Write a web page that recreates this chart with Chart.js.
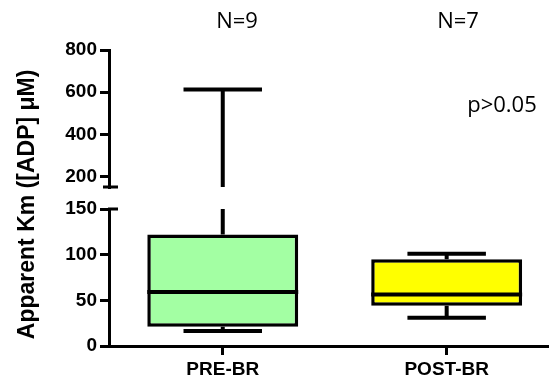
<!DOCTYPE html>
<html>
<head>
<meta charset="utf-8">
<script src="https://cdn.jsdelivr.net/npm/chart.js@4.4.0/dist/chart.umd.min.js"></script>
<style>
  html, body { margin: 0; padding: 0; background: #ffffff; }
  #wrap { width: 549px; height: 385px; }
</style>
</head>
<body>
<div id="wrap"><canvas id="c" width="549" height="385"></canvas></div>
<script>
// ---- data ----
const categories = ['PRE-BR', 'POST-BR'];
const whiskerMin = [16.5, 31];
const quartile1 = [21, 44];
const medians = [59, 56.5];
const quartile3 = [122, 95];
const whiskerMax = [613, 101];
const sampleSizes = ['N=9', 'N=7'];
const pValueText = 'p>0.05';
const boxColors = ['#a3ffa3', '#ffff00'];
const upperTicks = [200, 400, 600, 800];
const lowerTicks = [0, 50, 100, 150];
const upperRange = [150, 800];
const lowerRange = [0, 150];
const xRange = [-0.508, 1.457];
const yTitle = 'Apparent Km ([ADP] \u03bcM)  ';

const boxData = categories.map((c, i) => ({ x: i, y: [quartile1[i], quartile3[i]] }));

const tickFont = { family: 'Liberation Sans, Arial, sans-serif', size: 19, weight: 'bold' };

function yAxis(range, ticks, weight) {
  return {
    type: 'linear',
    position: 'left',
    stack: 'y',
    stackWeight: weight,
    min: range[0],
    max: range[1],
    afterBuildTicks: s => { s.ticks = ticks.map(v => ({ value: v })); },
    afterFit: s => { s.width = 109; },
    border: { display: true, color: '#000', width: 3 },
    grid: { display: true, drawOnChartArea: false, drawTicks: true, tickLength: 9, color: '#000', lineWidth: 3 },
    ticks: { color: '#000', font: tickFont, padding: 3 }
  };
}

const boxPlotPlugin = {
  id: 'boxPlot',
  afterDatasetsDraw(chart) {
    const ctx = chart.ctx;
    const yTop = chart.scales.yTop, yBot = chart.scales.yBot;
    const breakVal = lowerRange[1];
    const pix = v => v <= breakVal ? yBot.getPixelForValue(v) : yTop.getPixelForValue(v);
    const meta = chart.getDatasetMeta(0);
    ctx.save();
    ctx.strokeStyle = '#000';
    ctx.lineCap = 'butt';
    categories.forEach((c, i) => {
      const bar = meta.data[i];
      const x = bar.x;
      const half = bar.width / 2;
      const capHalf = bar.width * 0.26;
      ctx.lineWidth = 4;
      ctx.beginPath();
      if (whiskerMax[i] > breakVal) {
        ctx.moveTo(x, pix(quartile3[i]));
        ctx.lineTo(x, yBot.top);
        ctx.moveTo(x, yTop.bottom);
        ctx.lineTo(x, pix(whiskerMax[i]));
      } else {
        ctx.moveTo(x, pix(quartile3[i]));
        ctx.lineTo(x, pix(whiskerMax[i]));
      }
      ctx.moveTo(x, pix(quartile1[i]));
      ctx.lineTo(x, pix(whiskerMin[i]));
      ctx.stroke();
      ctx.beginPath();
      ctx.moveTo(x - capHalf, pix(whiskerMax[i]));
      ctx.lineTo(x + capHalf, pix(whiskerMax[i]));
      ctx.moveTo(x - capHalf, pix(whiskerMin[i]));
      ctx.lineTo(x + capHalf, pix(whiskerMin[i]));
      ctx.stroke();
      ctx.beginPath();
      ctx.moveTo(x - half, pix(medians[i]));
      ctx.lineTo(x + half, pix(medians[i]));
      ctx.stroke();
    });
    const ax = yBot.right;
    ctx.lineWidth = 3;
    ctx.beginPath();
    ctx.moveTo(ax - 6, yTop.bottom);
    ctx.lineTo(ax + 9, yTop.bottom);
    ctx.moveTo(ax - 1, yBot.top);
    ctx.lineTo(ax + 9, yBot.top);
    ctx.stroke();
    ctx.fillStyle = '#000';
    ctx.font = '22px "Open Sans", sans-serif';
    ctx.textAlign = 'center';
    ctx.textBaseline = 'middle';
    ctx.fillText(sampleSizes[0], 237, 22);
    ctx.fillText(sampleSizes[1], 458, 22);
    ctx.fillText(pValueText, 502, 106);
    ctx.restore();
  }
};

new Chart(document.getElementById('c'), {
  type: 'bar',
  data: {
    datasets: [{
      data: boxData,
      yAxisID: 'yBot',
      backgroundColor: boxColors,
      borderColor: '#000',
      borderWidth: 3.5,
      borderSkipped: false,
      barPercentage: 0.674,
      categoryPercentage: 1
    }]
  },
  options: {
    responsive: false,
    animation: false,
    layout: { padding: { top: 50, right: 0, bottom: 0, left: 0 } },
    plugins: { legend: { display: false }, tooltip: { enabled: false } },
    scales: {
      x: {
        type: 'linear',
        offset: false,
        min: xRange[0],
        max: xRange[1],
        afterBuildTicks: s => { s.ticks = categories.map((c, i) => ({ value: i })); },
        afterFit: s => { s.height = 39; },
        border: { display: true, color: '#000', width: 3 },
        grid: { display: true, offset: false, drawOnChartArea: false, drawTicks: true, tickLength: 9, color: '#000', lineWidth: 3 },
        ticks: { color: '#000', font: tickFont, padding: 3, maxRotation: 0, autoSkip: false,
                 callback: v => categories[v] }
      },
      yTop: Object.assign(yAxis(upperRange, upperTicks, 137), { weight: 3 }),
      yGap: {
        type: 'linear', position: 'left', stack: 'y', stackWeight: 22, weight: 2,
        min: 0, max: 1,
        afterFit: s => { s.width = 109; },
        border: { display: false },
        grid: { display: false, drawTicks: false },
        ticks: { display: false },
        title: { display: true, text: yTitle, color: '#000', font: { family: 'Liberation Sans, Arial, sans-serif', size: 23, weight: 'bold' }, padding: { top: 14, bottom: 0 } }
      },
      yBot: Object.assign(yAxis(lowerRange, lowerTicks, 137), { weight: 1 })
    }
  },
  plugins: [boxPlotPlugin]
});
</script>
</body>
</html>
